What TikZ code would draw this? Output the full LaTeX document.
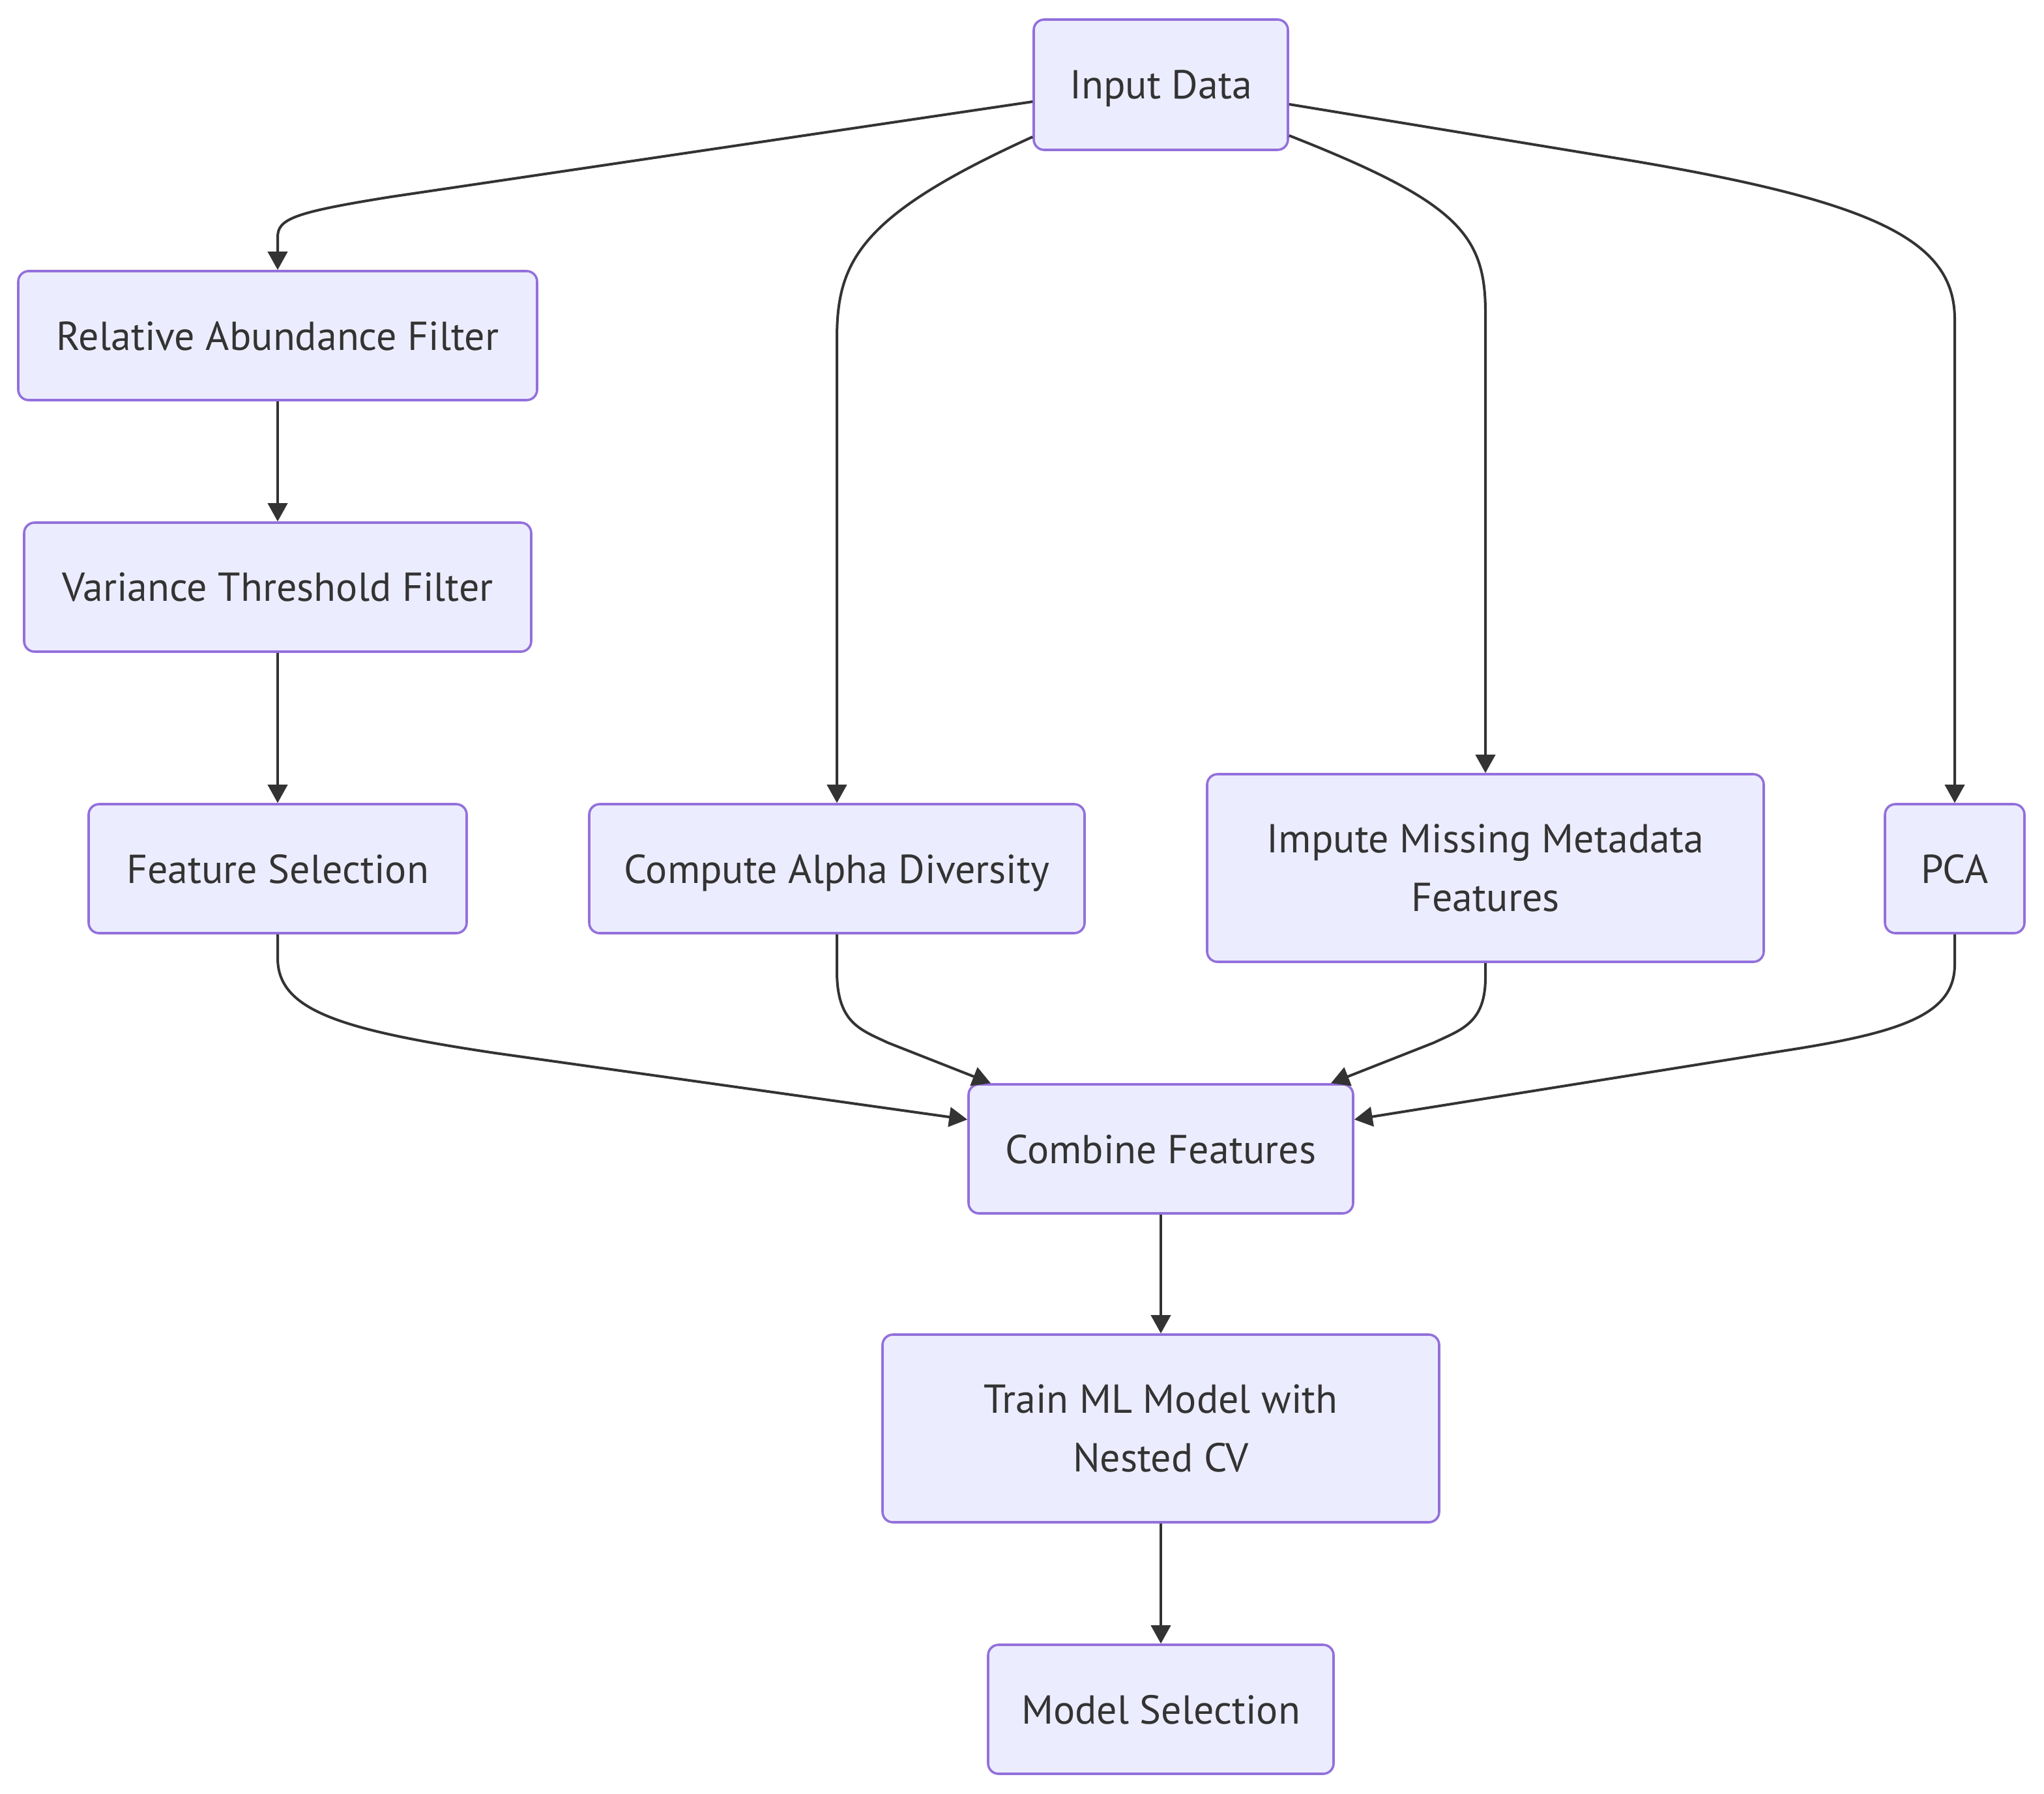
\documentclass[tikz,border=0pt]{standalone}
\usepackage{fontspec}
\setmainfont{PT Sans}
\usetikzlibrary{arrows.meta}
\definecolor{boxfill}{HTML}{ECECFF}
\definecolor{boxline}{HTML}{9370DB}
\definecolor{ink}{HTML}{333333}
\begin{document}
\begin{tikzpicture}[x=1pt,y=-1pt,
  proc/.style={draw=boxline, fill=boxfill, line width=1.8pt, rounded corners=8pt,
    inner sep=0pt, text=ink, align=center, text depth=0pt,
    font=\fontsize{31}{45}\selectfont},
  flow/.style={draw=ink, line width=2pt, -{Triangle[length=14pt,width=15pt]}}]
\useasboundingbox (0,0) rectangle (1568,1376);

% process boxes
\node[proc, minimum width=195pt, minimum height=100pt] (input)   at (890.5,65)    {Input Data};
\node[proc, minimum width=398pt, minimum height=99pt]  (relab)   at (213,257.5)   {Relative Abundance Filter};
\node[proc, minimum width=389pt, minimum height=99pt]  (var)     at (213,450.5)   {Variance Threshold Filter};
\node[proc, minimum width=290pt, minimum height=99pt]  (feat)    at (213,666.5)   {Feature Selection};
\node[proc, minimum width=380pt, minimum height=99pt]  (alpha)   at (642,666.5)   {Compute Alpha Diversity};
\node[proc, minimum width=427pt, minimum height=144pt] (impute)  at (1139.5,666)  {Impute Missing Metadata\\Features};
\node[proc, minimum width=107pt, minimum height=99pt]  (pca)     at (1499.5,666.5){PCA};
\node[proc, minimum width=295pt, minimum height=99pt]  (combine) at (890.5,881.5) {Combine Features};
\node[proc, minimum width=427pt, minimum height=144pt] (train)   at (890.5,1096)  {Train ML Model with\\Nested CV};
\node[proc, minimum width=265pt, minimum height=99pt]  (model)   at (890.5,1311.5){Model Selection};

% fan-out from the input data
\draw[flow] ([yshift=-13pt]input.west) -- (300,151)
  .. controls (225,163) and (213,168) .. (213,182) -- (relab.north);
\draw[flow] ([yshift=-40pt]input.west)
  .. controls (660,165) and (642,200) .. (642,260) -- (alpha.north);
\draw[flow] ([yshift=-39pt]input.east)
  .. controls (1118.5,155) and (1139.5,180) .. (1139.5,240) -- (impute.north);
\draw[flow] ([yshift=-15pt]input.east) -- (1250,123)
  .. controls (1440,155) and (1499.5,185) .. (1499.5,245) -- (pca.north);

% filter chain
\draw[flow] (relab.south) -- (var.north);
\draw[flow] (var.south) -- (feat.north);

% merging into the combined feature set
\draw[flow] (feat.south) -- (213,735)
  .. controls (213,775) and (260,790) .. (380,808) -- ([yshift=22.5pt]combine.west);
\draw[flow] (alpha.south) -- (642,745)
  .. controls (642,785) and (660,790) .. (681,800) -- ([xshift=-130.5pt]combine.north);
\draw[flow] (impute.south) -- (1139.5,750)
  .. controls (1139.5,785) and (1121,790) .. (1100,800) -- ([xshift=130.5pt]combine.north);
\draw[flow] (pca.south) -- (1499.5,740)
  .. controls (1499.5,778) and (1460,792) .. (1370,806) -- ([yshift=22.5pt]combine.east);

% training and selection
\draw[flow] (combine.south) -- (train.north);
\draw[flow] (train.south) -- (model.north);
\end{tikzpicture}
\end{document}
